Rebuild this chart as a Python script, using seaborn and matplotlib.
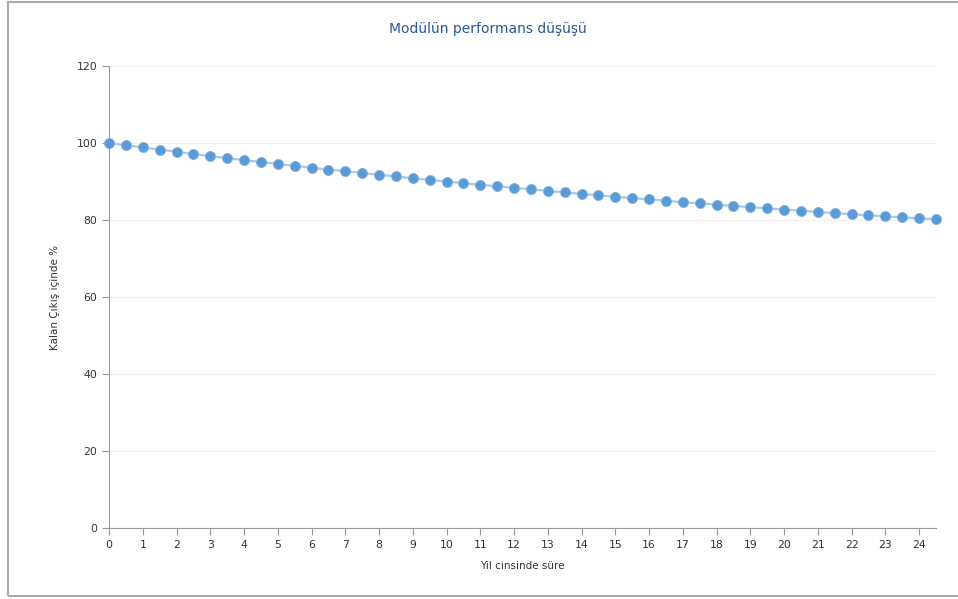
import numpy as np
import pandas as pd
import seaborn as sns
import matplotlib.pyplot as plt
from matplotlib.patches import Rectangle

# Data (years, remaining output %)
years = [0, 0.5, 1, 1.5, 2, 2.5, 3, 3.5, 4, 4.5, 5, 5.5, 6, 6.5, 7, 7.5, 8, 8.5,
         9, 9.5, 10, 10.5, 11, 11.5, 12, 12.5, 13, 13.5, 14, 14.5, 15, 15.5, 16,
         16.5, 17, 17.5, 18, 18.5, 19, 19.5, 20, 20.5, 21, 21.5, 22, 22.5, 23,
         23.5, 24, 24.5]
output_pct = [100.0, 99.4, 98.85, 98.3, 97.7, 97.15, 96.6, 96.05, 95.55, 95.05,
              94.55, 94.05, 93.55, 93.1, 92.65, 92.2, 91.75, 91.3, 90.85, 90.4,
              90.0, 89.55, 89.15, 88.75, 88.35, 87.95, 87.55, 87.15, 86.8, 86.4,
              86.05, 85.7, 85.35, 85.0, 84.65, 84.3, 84.0, 83.65, 83.35, 83.0,
              82.7, 82.4, 82.1, 81.8, 81.5, 81.2, 80.95, 80.65, 80.45, 80.2]
x_ticks = list(range(0, 25))
y_ticks = [0, 20, 40, 60, 80, 100, 120]

title = "Modülün performans düşüşü"
x_label = "Yil cinsinde süre"
y_label = "Kalan Çıkış içinde %"

df = pd.DataFrame({"year": years, "pct": output_pct})

sns.set_style("white")
plt.rcParams['font.family'] = ['DejaVu Sans']

fig = plt.figure(figsize=(9.58, 5.99), dpi=100)
ax = fig.add_axes([109 / 958, 1 - 528 / 599, (936 - 109) / 958, (528 - 66) / 599])

sns.lineplot(data=df, x="year", y="pct", color="#a8c8ea", lw=1.6, ax=ax, zorder=2)
sns.scatterplot(data=df, x="year", y="pct", color="#5b9bd5", s=52,
                edgecolor="#7fb0df", linewidth=0.6, ax=ax, zorder=3, clip_on=False)

ax.set_xlim(0, 24.5)
ax.set_ylim(0, 120)
ax.set_xticks(x_ticks)
ax.set_yticks(y_ticks)
ax.tick_params(axis="both", labelsize=7.8, labelcolor="#333333", color="#999999",
               length=5, width=0.8, direction="out", left=True, bottom=True)
ax.yaxis.grid(True, color="#eeeeee", lw=0.8)
ax.xaxis.grid(False)
ax.set_axisbelow(True)
for side in ["top", "right"]:
    ax.spines[side].set_visible(False)
for side in ["left", "bottom"]:
    ax.spines[side].set_color("#999999")
    ax.spines[side].set_linewidth(0.8)

ax.set_xlabel("")
ax.set_ylabel("")
fig.text(522 / 958, 1 - 566 / 599, x_label, ha="center", va="center",
         fontsize=7.5, color="#333333")
fig.text(55 / 958, 1 - 297 / 599, y_label, ha="center", va="center",
         rotation=90, fontsize=7.5, color="#333333")
fig.text(488 / 958, 1 - 29 / 599, title, ha="center", va="center",
         fontsize=10, color="#2b5797")

# outer frame
fig.patches.append(Rectangle((8 / 958, 3 / 599), 1.0, 1 - 5 / 599,
                             transform=fig.transFigure, fill=False,
                             edgecolor="#aaaaaa", lw=1.5))

fig.savefig("out.png", dpi=100)
